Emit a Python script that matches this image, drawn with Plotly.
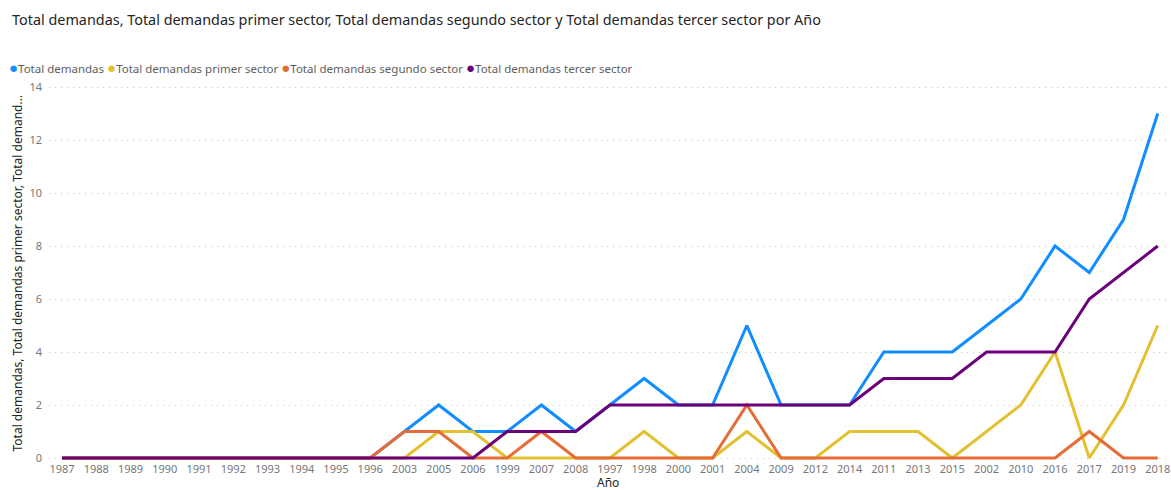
import plotly.graph_objects as go

# Year categories in the order they appear on the axis
anios = ["1987", "1988", "1989", "1990", "1991", "1992", "1993", "1994", "1995", "1996",
         "2003", "2005", "2006", "1999", "2007", "2008", "1997", "1998", "2000", "2001",
         "2004", "2009", "2012", "2014", "2011", "2013", "2015", "2002", "2010", "2016",
         "2017", "2019", "2018"]

total_demandas = [0, 0, 0, 0, 0, 0, 0, 0, 0, 0,
                  1, 2, 1, 1, 2, 1, 2, 3, 2, 2,
                  5, 2, 2, 2, 4, 4, 4, 5, 6, 8,
                  7, 9, 13]
primer_sector = [0, 0, 0, 0, 0, 0, 0, 0, 0, 0,
                 0, 1, 1, 0, 0, 0, 0, 1, 0, 0,
                 1, 0, 0, 1, 1, 1, 0, 1, 2, 4,
                 0, 2, 5]
segundo_sector = [0, 0, 0, 0, 0, 0, 0, 0, 0, 0,
                  1, 1, 0, 0, 1, 0, 0, 0, 0, 0,
                  2, 0, 0, 0, 0, 0, 0, 0, 0, 0,
                  1, 0, 0]
tercer_sector = [0, 0, 0, 0, 0, 0, 0, 0, 0, 0,
                 0, 0, 0, 1, 1, 1, 2, 2, 2, 2,
                 2, 2, 2, 2, 3, 3, 3, 4, 4, 4,
                 6, 7, 8]

nombres = ["Total demandas", "Total demandas primer sector",
           "Total demandas segundo sector", "Total demandas tercer sector"]
colores = ["#118DFF", "#E3C02F", "#E66C37", "#6B007B"]
series = [total_demandas, primer_sector, segundo_sector, tercer_sector]

FONT = "Segoe UI, Noto Sans, Open Sans, sans-serif"

# plot area size in pixels (used to place titles in paper units)
PW, PH = 1118, 375

fig = go.Figure()
x_idx = list(range(len(anios)))
for nombre, color, valores in zip(nombres, colores, series):
    fig.add_trace(go.Scatter(
        x=x_idx, y=valores, mode="lines", name=nombre,
        line=dict(color=color, width=3), showlegend=False,
        hovertemplate="%{text}: %{y}<extra>" + nombre + "</extra>",
        text=anios,
    ))

# Legend row built as one rich-text line with coloured dots
leyenda = " ".join(
    f"<span style='color:{c};font-size:15px'>●</span>{n}" for n, c in zip(nombres, colores)
)
fig.add_annotation(
    text=leyenda, xref="paper", yref="paper", x=-42 / PW, y=1 + 19 / PH,
    xanchor="left", yanchor="middle", showarrow=False,
    font=dict(family=FONT, size=11.5, color="#605E5C"),
)

# Axis titles
fig.add_annotation(
    text="Año", xref="paper", yref="paper", x=0.5, y=-21 / PH,
    xanchor="center", yanchor="middle", showarrow=False,
    font=dict(family=FONT, size=12, color="#252423"),
)
fig.add_annotation(
    text="Total demandas, Total demandas primer sector, Total demand...",
    xref="paper", yref="paper", x=-32 / PW, y=0.5, textangle=-90,
    xanchor="center", yanchor="middle", showarrow=False,
    font=dict(family=FONT, size=12, color="#252423"),
)

fig.update_layout(
    width=1171, height=490,
    margin=dict(l=49, r=4, t=86, b=29),
    paper_bgcolor="white", plot_bgcolor="white",
    font=dict(family=FONT, color="#605E5C"),
    title=dict(
        text="Total demandas, Total demandas primer sector, Total demandas segundo sector y Total demandas tercer sector por Año",
        x=12 / 1171, xanchor="left", xref="container",
        y=1 - 20 / 490, yanchor="middle", yref="container",
        font=dict(family=FONT, size=14.4, color="#252423"),
    ),
    xaxis=dict(
        tickmode="array", tickvals=x_idx, ticktext=anios,
        range=[-0.38, 32.27], showgrid=False, zeroline=False, showline=False,
        ticks="", tickfont=dict(size=11, color="#777777"),
        tickangle=0, automargin=False,
    ),
    yaxis=dict(
        range=[-0.113, 14.04], tickvals=[0, 2, 4, 6, 8, 10, 12, 14],
        showgrid=True, gridcolor="#C8C6C4", griddash="1px,5px", gridwidth=1,
        zeroline=False, showline=False, ticks="", automargin=False,
        tickfont=dict(size=11, color="#777777"), ticklabelstandoff=6,
    ),
)

fig.write_html("out.html")
